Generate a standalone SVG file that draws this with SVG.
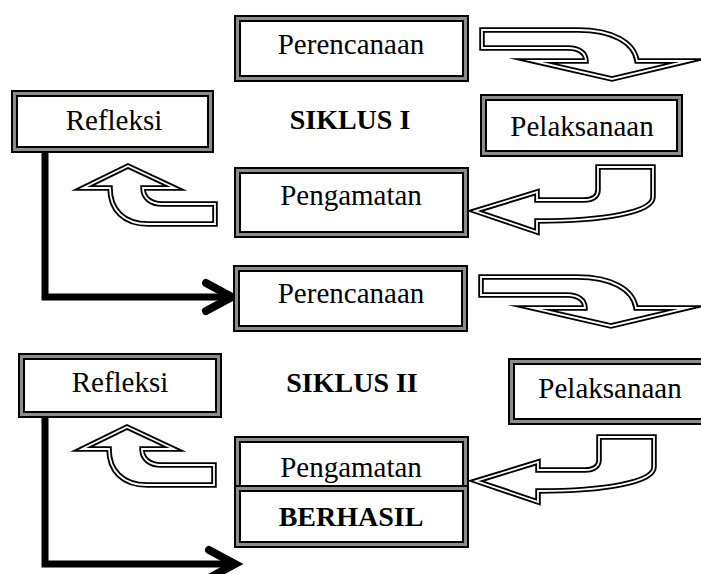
<svg xmlns="http://www.w3.org/2000/svg" xmlns:xlink="http://www.w3.org/1999/xlink" width="701" height="574" viewBox="0 0 701 574">
<style>
.bo{fill:#fff;stroke:#000;stroke-width:7}
.bi{fill:none;stroke:#8c8c8c;stroke-width:3}
.lbl{font-family:"Liberation Serif","Times New Roman",serif;font-size:29px;text-anchor:middle;fill:#000}
.b{font-weight:bold;font-size:28px}
.ao{fill:#fff;stroke:#000;stroke-width:5.5;stroke-miterlimit:12;stroke-linejoin:miter}
.ai{fill:none;stroke:#fff;stroke-width:1.8;stroke-miterlimit:12}
.ln{fill:none;stroke:#000;stroke-width:7;stroke-linejoin:miter}
.chev{fill:none;stroke:#000;stroke-width:8;stroke-linecap:round;stroke-linejoin:miter}
</style>
<defs>
<path id="pA" d="M482,30 L578,30 C612,30 634,42 637,61 L688,61 L612,79 L533,61 L586,61 C586,53 579,48 568,48 L482,48 Z"/>
<path id="pB" d="M598,167 L653,167 L653,197 C653,212 605,221 537,221 L537,232 L475,211 L537,192 L537,200 L584,200 C593,200 598,196 598,190 Z"/>
<path id="pC" d="M215,204 L162,204 C151,204 143,198 143,188 L175,188 L128,166 L83,188 L110,188 C110,210 124,224 148,224 L215,224 Z"/>
<g id="arrA"><use xlink:href="#pA" class="ao"/><use xlink:href="#pA" class="ai"/></g>
<g id="arrB"><use xlink:href="#pB" class="ao"/><use xlink:href="#pB" class="ai"/></g>
<g id="arrC"><use xlink:href="#pC" class="ao"/><use xlink:href="#pC" class="ai"/></g>
</defs>
<rect width="701" height="574" fill="#fff"/>

<g id="connectors">
<use xlink:href="#arrA"/>
<use xlink:href="#arrB"/>
<use xlink:href="#arrC"/>
<use xlink:href="#arrA" transform="translate(-1,247)"/>
<use xlink:href="#arrB" transform="translate(1,270)"/>
<use xlink:href="#arrC" transform="translate(-1,261)"/>
<path class="ln" d="M45,153 L45,297 L228,297"/>
<path class="chev" d="M206,283 L232,297 L206,311"/>
<path class="ln" d="M45,418 L45,564 L230,564"/>
<path class="chev" d="M209,550 L235,564 L209,578"/>
</g>

<g id="perencanaan1">
<rect class="bo" x="237.5" y="18.5" width="228" height="60"/>
<rect class="bi" x="237.5" y="18.5" width="228" height="60"/>
<text class="lbl" x="351" y="54">Perencanaan</text>
</g>
<g id="pelaksanaan1">
<rect class="bo" x="483.5" y="97.5" width="196" height="56"/>
<rect class="bi" x="483.5" y="97.5" width="196" height="56"/>
<text class="lbl" x="582" y="136">Pelaksanaan</text>
</g>
<g id="refleksi1">
<rect class="bo" x="14.5" y="93.5" width="196" height="56"/>
<rect class="bi" x="14.5" y="93.5" width="196" height="56"/>
<text class="lbl" x="114" y="130">Refleksi</text>
</g>
<g id="siklus1">
<text class="lbl b" x="350" y="129">SIKLUS I</text>
</g>
<g id="pengamatan1">
<rect class="bo" x="237.5" y="170.5" width="228" height="64"/>
<rect class="bi" x="237.5" y="170.5" width="228" height="64"/>
<text class="lbl" x="351" y="205">Pengamatan</text>
</g>
<g id="perencanaan2">
<rect class="bo" x="236.5" y="268.5" width="228" height="60"/>
<rect class="bi" x="236.5" y="268.5" width="228" height="60"/>
<text class="lbl" x="351" y="303">Perencanaan</text>
</g>
<g id="pelaksanaan2">
<rect class="bo" x="511.5" y="361.5" width="200" height="60"/>
<rect class="bi" x="511.5" y="361.5" width="200" height="60"/>
<text class="lbl" x="610" y="398">Pelaksanaan</text>
</g>
<g id="refleksi2">
<rect class="bo" x="21.5" y="356.5" width="197" height="58"/>
<rect class="bi" x="21.5" y="356.5" width="197" height="58"/>
<text class="lbl" x="120" y="392">Refleksi</text>
</g>
<g id="siklus2">
<text class="lbl b" x="352" y="392">SIKLUS II</text>
</g>
<g id="pengamatan2">
<rect class="bo" x="237.5" y="439.5" width="228" height="49"/>
<rect class="bi" x="237.5" y="439.5" width="228" height="49"/>
<text class="lbl" x="351" y="477">Pengamatan</text>
</g>
<g id="berhasil">
<rect class="bo" x="237.5" y="488.5" width="228" height="56"/>
<rect class="bi" x="237.5" y="488.5" width="228" height="56"/>
<text class="lbl b" x="351" y="526">BERHASIL</text>
</g>
</svg>
